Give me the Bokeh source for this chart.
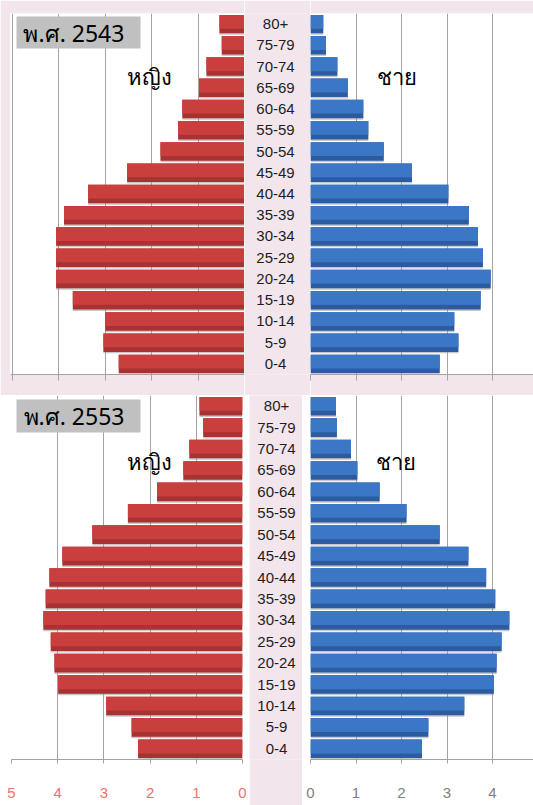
from bokeh.plotting import figure
from bokeh.layouts import column, row
from bokeh.models import (FactorRange, Range1d, FixedTicker, BoxAnnotation, Label,
                          ColumnDataSource, CustomLabelingPolicy)
from bokeh.transform import dodge
from bokeh.core.properties import value
from bokeh.embed import file_html
from bokeh.resources import INLINE

# ---------------- data (percent of population, bottom to top) ----------------
ages = ["0-4", "5-9", "10-14", "15-19", "20-24", "25-29", "30-34", "35-39", "40-44",
        "45-49", "50-54", "55-59", "60-64", "65-69", "70-74", "75-79", "80+"]
female_2543 = [2.71, 3.04, 3.00, 3.70, 4.06, 4.06, 4.06, 3.89, 3.37, 2.53, 1.81, 1.43, 1.34, 0.98, 0.82, 0.49, 0.54]
male_2543 = [2.84, 3.25, 3.16, 3.74, 3.96, 3.79, 3.68, 3.48, 3.03, 2.23, 1.61, 1.27, 1.16, 0.82, 0.59, 0.34, 0.28]
female_2553 = [2.26, 2.40, 2.95, 3.99, 4.07, 4.15, 4.31, 4.26, 4.18, 3.90, 3.25, 2.48, 1.85, 1.28, 1.15, 0.85, 0.93]
male_2553 = [2.45, 2.59, 3.38, 4.03, 4.09, 4.20, 4.37, 4.06, 3.86, 3.47, 2.84, 2.11, 1.52, 1.03, 0.89, 0.58, 0.56]
ticks_female = [0, 1, 2, 3, 4, 5]
ticks_male = [0, 1, 2, 3, 4]
year_labels = ["พ.ศ. 2543", "พ.ศ. 2553"]
sex_labels = ["หญิง", "ชาย"]

PINK = "#f3e5ec"
GRID = "#a3a3a3"
RED_DARK, RED_LIGHT = "#a83131", "#c93f3e"
BLUE_DARK, BLUE_LIGHT = "#2c5c9f", "#3b77c5"
LATIN = "Liberation Sans"
THAI = "Noto Sans"


def bar_panel(vals, xr, ticks, width, height, bl, br, bt, bb, border_fill,
              dark, light, tick_out, show_labels, label_color, standoff):
    p = figure(width=width, height=height, x_range=xr, y_range=FactorRange(*ages),
               output_backend="svg", toolbar_location=None, y_axis_location=None,
               min_border_left=bl, min_border_right=br, min_border_top=bt, min_border_bottom=bb)
    p.background_fill_color = "white"
    p.border_fill_color = border_fill
    p.outline_line_color = None
    p.ygrid.grid_line_color = None
    p.xgrid.ticker = FixedTicker(ticks=ticks)
    p.xgrid.grid_line_color = GRID
    p.xaxis.ticker = FixedTicker(ticks=ticks)
    p.xaxis.axis_line_color = GRID
    p.xaxis.major_tick_line_color = GRID
    p.xaxis.minor_tick_line_color = None
    p.xaxis.major_tick_in = 0
    p.xaxis.major_tick_out = tick_out
    p.xaxis.major_label_text_font = LATIN
    p.xaxis.major_label_text_font_size = "15px"
    p.xaxis.major_label_standoff = standoff
    if show_labels:
        p.xaxis.major_label_text_color = label_color
    else:
        # tick labels of the upper chart are hidden (covered in the original)
        p.xaxis.major_label_policy = CustomLabelingPolicy(code="return []")
    src = ColumnDataSource(dict(age=ages, v=vals))
    p.hbar(y=dodge("age", -0.07, range=p.y_range), left=0, right="v", height=0.87,
           fill_color="#9a9a9a", fill_alpha=0.55, line_color=None, source=src)
    p.hbar(y="age", left=0, right="v", height=0.87, fill_color=dark, line_color=None, source=src)
    p.hbar(y=dodge("age", 0.11, range=p.y_range), left=0, right="v", height=0.65,
           fill_color=light, line_color=None, source=src)
    return p


def label_panel(width, height, bt, bb, xc):
    m = figure(width=width, height=height, x_range=Range1d(0, 1), y_range=FactorRange(*ages),
               output_backend="svg", toolbar_location=None, x_axis_location=None,
               y_axis_location=None, min_border_left=0, min_border_right=0,
               min_border_top=bt, min_border_bottom=bb)
    m.background_fill_color = PINK
    m.border_fill_color = PINK
    m.outline_line_color = None
    m.grid.visible = False
    src = ColumnDataSource(dict(age=ages, x=[xc] * len(ages)))
    m.text(x="x", y="age", text="age", source=src, text_align="center", text_baseline="middle",
           text_font=value(LATIN), text_font_size="15px", text_color="#1e1e1e")
    return m


def add_title(p, left, right, top, bottom, tx, ty, text):
    p.add_layout(BoxAnnotation(left=left, right=right, top=top, bottom=bottom,
                               fill_color="#c0c0c0", fill_alpha=1.0, line_color=None))
    p.add_layout(Label(x=tx, y=ty, text=text, text_font=THAI, text_font_size="23px",
                       text_align="left", text_baseline="middle", text_color="black"))


def add_sex(p, x, y, text):
    p.add_layout(Label(x=x, y=y, text=text, text_font=THAI, text_font_size="22px",
                       text_align="center", text_baseline="middle", text_color="black"))


# ---------------- top chart (2543) ----------------
H1 = 395
f1 = bar_panel(female_2543, Range1d(5.043, 0), ticks_female, 244, H1, 10, 0, 13, 21, PINK,
               RED_DARK, RED_LIGHT, 6, False, None, 0)
m1 = label_panel(66, H1, 13, 21, 0.47)
r1 = bar_panel(male_2543, Range1d(0, 4.901), ticks_male, 223, H1, 0, 0, 13, 21, PINK,
               BLUE_DARK, BLUE_LIGHT, 6, False, None, 0)
add_title(f1, 4.914, 2.241, 16.858, 15.349, 4.763, 16.104, year_labels[0])
add_sex(f1, 2.05, 14.08, sex_labels[0])
add_sex(r1, 1.91, 14.08, sex_labels[1])

# ---------------- bottom chart (2553) ----------------
H2 = 410
f2 = bar_panel(female_2553, Range1d(5, 0), ticks_female, 249, H2, 11, 7, 0, 46, "white",
               RED_DARK, RED_LIGHT, 4, True, "#ee7070", 24)
m2 = label_panel(53, H2, 0, 46, 0.51)
r2 = bar_panel(male_2553, Range1d(0, 4.901), ticks_male, 231, H2, 8, 0, 0, 46, "white",
               BLUE_DARK, BLUE_LIGHT, 4, True, "#808080", 24)
add_title(f2, 4.892, 2.208, 16.813, 15.272, 4.740, 16.043, year_labels[1])
add_sex(f2, 2.01, 13.96, sex_labels[0])
add_sex(r2, 1.89, 13.96, sex_labels[1])

layout = column(row(f1, m1, r1), row(f2, m2, r2))

open("out.html", "w").write(file_html(layout, INLINE))
